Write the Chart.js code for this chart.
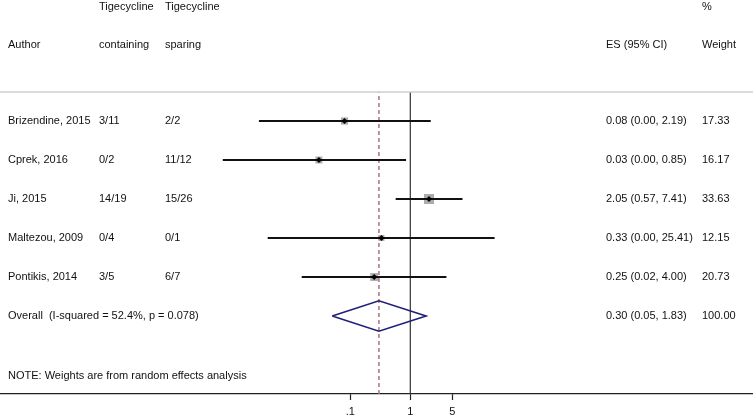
<!DOCTYPE html>
<html>
<head>
<meta charset="utf-8">
<script src="https://cdn.jsdelivr.net/npm/chart.js@4"></script>
<style>
  html, body { margin: 0; padding: 0; background: #fff; overflow: hidden; }
  #wrap { width: 753px; height: 416px; }
</style>
</head>
<body>
<div id="wrap"><canvas id="c" width="753" height="416"></canvas></div>
<script>
// ---- data ----
const authors = ["Brizendine, 2015", "Cprek, 2016", "Ji, 2015", "Maltezou, 2009", "Pontikis, 2014"];
const containing = ["3/11", "0/2", "14/19", "0/4", "3/5"];
const sparing = ["2/2", "11/12", "15/26", "0/1", "6/7"];
const es = [0.08, 0.03, 2.05, 0.33, 0.25];
const lower = [0.003, 0.00075, 0.57, 0.0042, 0.0155];
const upper = [2.19, 0.85, 7.41, 25.41, 4.00];
const esLabels = ["0.08 (0.00, 2.19)", "0.03 (0.00, 0.85)", "2.05 (0.57, 7.41)", "0.33 (0.00, 25.41)", "0.25 (0.02, 4.00)"];
const weights = [17.33, 16.17, 33.63, 12.15, 20.73];
const weightLabels = ["17.33", "16.17", "33.63", "12.15", "20.73"];
const overallES = 0.30;
const overallLower = 0.05;
const overallUpper = 1.83;
const overallLabel = "Overall  (I-squared = 52.4%, p = 0.078)";
const overallESLabel = "0.30 (0.05, 1.83)";
const overallWeightLabel = "100.00";
const tickValues = [0.1, 1, 5];
const tickLabels = [".1", "1", "5"];
const noteText = "NOTE: Weights are from random effects analysis";

// ---- build ----
const L = Math.log10;
const rows = authors.map((_, i) => 7 - i);   // study row positions
const overallRow = 2;
const yMax = 7.744;

const datasets = [];
// null line at 1
datasets.push({ type: 'line', data: [{x: L(1), y: 0}, {x: L(1), y: yMax}], borderColor: '#333', borderWidth: 1.2, pointRadius: 0, order: 5 });
// dashed overall line
datasets.push({ type: 'line', data: [{x: L(overallES), y: 0}, {x: L(overallES), y: yMax}], borderColor: '#a8747e', borderWidth: 1.5, borderDash: [4, 3], pointRadius: 0, order: 5 });
// weight squares
datasets.push({ type: 'scatter', data: es.map((v, i) => ({x: L(v), y: rows[i]})), pointStyle: 'rect',
  pointRadius: weights.map(w => 1.22 * Math.sqrt(w)), backgroundColor: '#acacac', borderWidth: 0, order: 4 });
// CI lines
es.forEach((v, i) => {
  datasets.push({ type: 'line', data: [{x: L(lower[i]), y: rows[i]}, {x: L(upper[i]), y: rows[i]}],
    borderColor: '#111', borderWidth: 1.8, pointRadius: 0, order: 2 });
});
// point estimate markers
datasets.push({ type: 'scatter', data: es.map((v, i) => ({x: L(v), y: rows[i]})), pointStyle: 'rectRot',
  pointRadius: 3, backgroundColor: '#000', borderWidth: 0, order: 1 });
// overall diamond
const dh = 0.39;
datasets.push({ type: 'line', data: [
  {x: L(overallLower), y: overallRow}, {x: L(overallES), y: overallRow + dh},
  {x: L(overallUpper), y: overallRow}, {x: L(overallES), y: overallRow - dh},
  {x: L(overallLower), y: overallRow}],
  borderColor: '#1f1f78', borderWidth: 1.6, pointRadius: 0, fill: false, tension: 0, order: 1 });

const textPlugin = {
  id: 'forestText',
  afterDraw(chart) {
    const ctx = chart.ctx, ys = chart.scales.y, area = chart.chartArea;
    ctx.save();
    // top rule
    ctx.strokeStyle = '#cfcfcf'; ctx.lineWidth = 1.5;
    ctx.beginPath(); ctx.moveTo(0, area.top); ctx.lineTo(chart.width, area.top); ctx.stroke();
    ctx.fillStyle = '#111';
    ctx.font = '11px "Liberation Sans", Arial, sans-serif';
    ctx.textBaseline = 'middle'; ctx.textAlign = 'left';
    const c0 = 8, c1 = 99, c2 = 165, c3 = 606, c4 = 702;
    const h1 = ys.getPixelForValue(9.93), h2 = ys.getPixelForValue(8.95);
    ctx.fillText("Tigecycline", c1, h1);
    ctx.fillText("Tigecycline", c2, h1);
    ctx.fillText("%", c4, h1);
    ctx.fillText("Author", c0, h2);
    ctx.fillText("containing", c1, h2);
    ctx.fillText("sparing", c2, h2);
    ctx.fillText("ES (95% CI)", c3, h2);
    ctx.fillText("Weight", c4, h2);
    authors.forEach((a, i) => {
      const y = ys.getPixelForValue(rows[i]);
      ctx.fillText(a, c0, y);
      ctx.fillText(containing[i], c1, y);
      ctx.fillText(sparing[i], c2, y);
      ctx.fillText(esLabels[i], c3, y);
      ctx.fillText(weightLabels[i], c4, y);
    });
    const yo = ys.getPixelForValue(overallRow);
    ctx.fillText(overallLabel, c0, yo);
    ctx.fillText(overallESLabel, c3, yo);
    ctx.fillText(overallWeightLabel, c4, yo);
    ctx.fillText(noteText, c0, ys.getPixelForValue(0.46));
    ctx.restore();
  }
};

new Chart(document.getElementById('c'), {
  data: { datasets },
  options: {
    responsive: false,
    animation: false,
    devicePixelRatio: 1,
    layout: { autoPadding: false, padding: { top: 92, left: 0, right: 0, bottom: -7.2 } },
    plugins: { legend: { display: false }, tooltip: { enabled: false } },
    scales: {
      x: {
        type: 'linear',
        min: -410.3 / 60,
        max: (753 - 410.3) / 60,
        afterBuildTicks: (s) => { s.ticks = tickValues.map(v => ({ value: L(v) })); },
        afterFit: (s) => { s.paddingLeft = 0; s.paddingRight = 0; },
        ticks: {
          autoSkip: false, maxRotation: 0, padding: 5, color: '#111',
          font: { family: '"Liberation Sans", Arial, sans-serif', size: 11 },
          callback: (v, i) => tickLabels[i]
        },
        grid: { drawOnChartArea: false, drawTicks: true, tickLength: 6, color: '#222', tickWidth: 1.2 },
        border: { display: true, color: '#222', width: 1.2 }
      },
      y: { type: 'linear', display: false, min: 0, max: yMax }
    }
  },
  plugins: [textPlugin]
});
</script>
</body>
</html>
